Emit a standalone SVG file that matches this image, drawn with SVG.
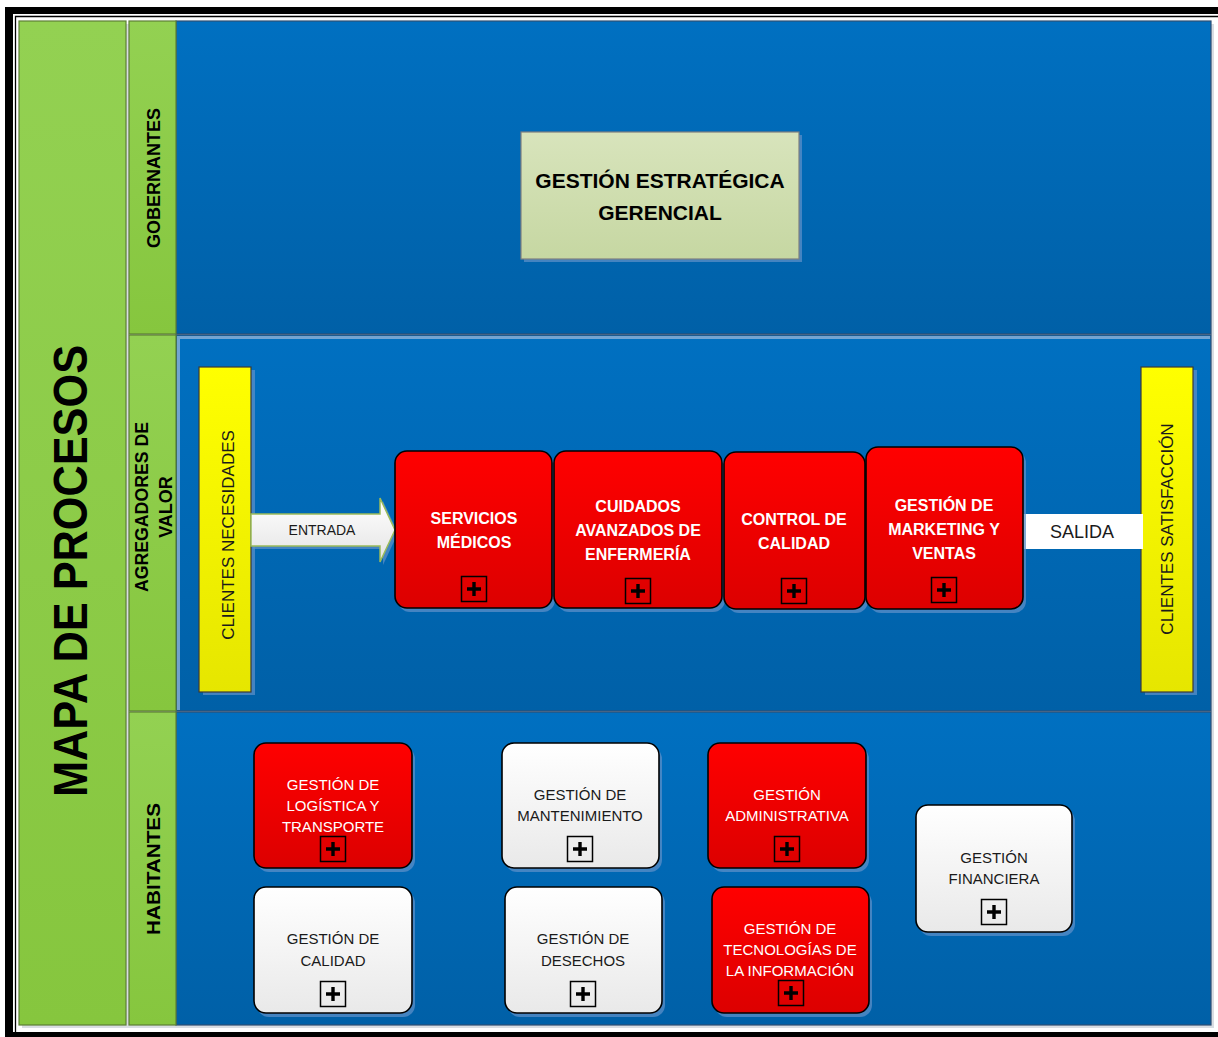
<svg xmlns="http://www.w3.org/2000/svg" width="1218" height="1037" viewBox="0 0 1218 1037">
<style>
.green{stroke:#5d7f35;stroke-width:1.2}
.lane{stroke:#2d4f73;stroke-width:1.2}
.red{fill:url(#gRed);stroke:#000;stroke-width:1.6}
.white{fill:url(#gWhite);stroke:#000;stroke-width:1.6}
.shadow{fill:#5b8fc8;opacity:0.75}
.yellow{fill:url(#gYellow);stroke:#3a3a3a;stroke-width:1.2}
.tb{font-family:"Liberation Sans",Arial,sans-serif;font-weight:bold;text-anchor:middle}
.tr{font-family:"Liberation Sans",Arial,sans-serif;text-anchor:middle}
.wt{fill:#fff}
.dk{fill:#1a1a1a}
.icon rect{fill:none;stroke:#000;stroke-width:1.5}
.icon path{stroke:#000;stroke-width:3.4;fill:none}
</style>
<defs>
<linearGradient id="gBlue" x1="0" y1="0" x2="0" y2="1"><stop offset="0" stop-color="#0070c1"/><stop offset="1" stop-color="#0060a7"/></linearGradient>
<linearGradient id="gGreen" x1="0" y1="0" x2="0" y2="1"><stop offset="0" stop-color="#93d152"/><stop offset="1" stop-color="#86c63e"/></linearGradient>
<linearGradient id="gRed" x1="0" y1="0" x2="0" y2="1"><stop offset="0" stop-color="#ff0000"/><stop offset="1" stop-color="#dc0000"/></linearGradient>
<linearGradient id="gWhite" x1="0" y1="0" x2="0" y2="1"><stop offset="0" stop-color="#ffffff"/><stop offset="1" stop-color="#e9e9e9"/></linearGradient>
<linearGradient id="gYellow" x1="0" y1="0" x2="0" y2="1"><stop offset="0" stop-color="#ffff00"/><stop offset="1" stop-color="#e6e600"/></linearGradient>
<linearGradient id="gOlive" x1="0" y1="0" x2="0" y2="1"><stop offset="0" stop-color="#d8e4bc"/><stop offset="1" stop-color="#c6d7a2"/></linearGradient>
<linearGradient id="gArrow" x1="0" y1="0" x2="0" y2="1"><stop offset="0" stop-color="#ffffff"/><stop offset="1" stop-color="#e4e4e4"/></linearGradient>
<g id="plus" class="icon"><rect x="-12.5" y="-12.5" width="25" height="25"/><path d="M-7,0H7M0,-7V7"/></g>
</defs>

<!-- frame -->
<rect x="5" y="7" width="1220" height="1040" fill="#000"/>
<rect x="13" y="14" width="1210" height="1018" fill="#fff"/>
<path d="M15.5,1032V16.5H1218" fill="none" stroke="#000" stroke-width="1.3"/>

<!-- shadows of lanes -->
<rect x="22" y="24" width="1192" height="1004" fill="#d9dde2"/>

<g id="title-column">
<rect x="19" y="21" width="107" height="1004" fill="url(#gGreen)" class="green"/>
<text class="tb" transform="translate(70,571) rotate(-90)" y="17" font-size="48" textLength="452" lengthAdjust="spacingAndGlyphs" fill="#000">MAPA DE PROCESOS</text>
</g>

<g id="lane-gobernantes">
<rect x="176" y="21" width="1035" height="313" fill="url(#gBlue)" class="lane"/>
<rect x="129" y="21" width="47" height="313" fill="url(#gGreen)" class="green"/>
<text class="tb" transform="translate(153,178) rotate(-90)" y="6.5" font-size="18" textLength="140" lengthAdjust="spacingAndGlyphs" fill="#000">GOBERNANTES</text>
</g>

<g id="lane-agregadores">
<rect x="176" y="335" width="1035" height="376" fill="url(#gBlue)" class="lane"/>
<path d="M178.5,710V337.5H1210" fill="none" stroke="#8fb2d6" stroke-width="3" opacity="0.8"/>
<rect x="129" y="335" width="47" height="376" fill="url(#gGreen)" class="green"/>
<text class="tb" transform="translate(141,507) rotate(-90)" y="6.5" font-size="18" textLength="170" lengthAdjust="spacingAndGlyphs" fill="#000">AGREGADORES DE</text>
<text class="tb" transform="translate(165,507) rotate(-90)" y="6.5" font-size="18" fill="#000">VALOR</text>
</g>

<g id="lane-habitantes">
<rect x="176" y="712" width="1035" height="313" fill="url(#gBlue)" class="lane"/>
<rect x="129" y="712" width="47" height="313" fill="url(#gGreen)" class="green"/>
<text class="tb" transform="translate(153,869) rotate(-90)" y="6.5" font-size="18" textLength="132" lengthAdjust="spacingAndGlyphs" fill="#000">HABITANTES</text>
</g>

<g id="node-estrategica">
<rect x="524" y="135" width="278" height="127" class="shadow"/>
<rect x="521" y="132" width="278" height="127" fill="url(#gOlive)" stroke="#7f7f7f" stroke-width="1.2"/>
<text class="tb" x="660" y="187.5" font-size="21" fill="#000">GESTIÓN ESTRATÉGICA</text>
<text class="tb" x="660" y="219.5" font-size="21" fill="#000">GERENCIAL</text>
</g>

<g id="node-clientes-necesidades">
<rect x="203" y="370" width="52" height="325" class="shadow"/>
<rect x="199" y="367" width="52" height="325" class="yellow"/>
<text class="tr dk" transform="translate(228,535) rotate(-90)" y="6" font-size="17">CLIENTES NECESIDADES</text>
</g>

<g id="node-clientes-satisfaccion">
<rect x="1145" y="370" width="52" height="325" class="shadow"/>
<rect x="1141" y="367" width="52" height="325" class="yellow"/>
<text class="tr dk" transform="translate(1167,529) rotate(-90)" y="6" font-size="17">CLIENTES SATISFACCIÓN</text>
</g>

<g id="connectors">
<path d="M253,517H383V501L398,533L383,565V549H253Z" class="shadow"/>
<path d="M251,514H380V498L395,530L380,562V546H251Z" fill="url(#gArrow)" stroke="#9bbb59" stroke-width="1.5"/>
<text class="tr dk" x="322" y="535" font-size="14">ENTRADA</text>
<rect x="1023" y="514" width="120" height="35" fill="#fff"/>
<text class="tr dk" x="1082" y="537.5" font-size="18">SALIDA</text>
</g>

<g id="node-servicios-medicos">
<rect x="398" y="455" width="157" height="157" rx="12" class="shadow"/>
<rect x="395" y="451" width="157" height="157" rx="12" class="red"/>
<text class="tb wt" x="474" y="524" font-size="16">SERVICIOS</text>
<text class="tb wt" x="474" y="548" font-size="16">MÉDICOS</text>
<use href="#plus" x="474" y="589"/>
</g>

<g id="node-cuidados">
<rect x="557" y="455" width="168" height="157" rx="12" class="shadow"/>
<rect x="554" y="451" width="168" height="157" rx="12" class="red"/>
<text class="tb wt" x="638" y="512" font-size="16">CUIDADOS</text>
<text class="tb wt" x="638" y="536" font-size="16">AVANZADOS DE</text>
<text class="tb wt" x="638" y="560" font-size="16">ENFERMERÍA</text>
<use href="#plus" x="638" y="591"/>
</g>

<g id="node-control-calidad">
<rect x="727" y="456" width="141" height="157" rx="12" class="shadow"/>
<rect x="724" y="452" width="141" height="157" rx="12" class="red"/>
<text class="tb wt" x="794" y="525" font-size="16">CONTROL DE</text>
<text class="tb wt" x="794" y="549" font-size="16">CALIDAD</text>
<use href="#plus" x="794" y="591"/>
</g>

<g id="node-marketing">
<rect x="869" y="451" width="157" height="162" rx="12" class="shadow"/>
<rect x="866" y="447" width="157" height="162" rx="12" class="red"/>
<text class="tb wt" x="944" y="511" font-size="16">GESTIÓN DE</text>
<text class="tb wt" x="944" y="535" font-size="16">MARKETING Y</text>
<text class="tb wt" x="944" y="559" font-size="16">VENTAS</text>
<use href="#plus" x="944" y="590"/>
</g>

<g id="node-logistica">
<rect x="257" y="747" width="158" height="125" rx="12" class="shadow"/>
<rect x="254" y="743" width="158" height="125" rx="12" class="red"/>
<text class="tr wt" x="333" y="789.5" font-size="15">GESTIÓN DE</text>
<text class="tr wt" x="333" y="810.5" font-size="15">LOGÍSTICA Y</text>
<text class="tr wt" x="333" y="831.5" font-size="15">TRANSPORTE</text>
<use href="#plus" x="333" y="849"/>
</g>

<g id="node-mantenimiento">
<rect x="505" y="747" width="157" height="125" rx="12" class="shadow"/>
<rect x="502" y="743" width="157" height="125" rx="12" class="white"/>
<text class="tr dk" x="580" y="799.5" font-size="15">GESTIÓN DE</text>
<text class="tr dk" x="580" y="820.5" font-size="15">MANTENIMIENTO</text>
<use href="#plus" x="580" y="849"/>
</g>

<g id="node-administrativa">
<rect x="711" y="747" width="158" height="125" rx="12" class="shadow"/>
<rect x="708" y="743" width="158" height="125" rx="12" class="red"/>
<text class="tr wt" x="787" y="799.5" font-size="15">GESTIÓN</text>
<text class="tr wt" x="787" y="820.5" font-size="15">ADMINISTRATIVA</text>
<use href="#plus" x="787" y="849"/>
</g>

<g id="node-financiera">
<rect x="919" y="809" width="156" height="127" rx="12" class="shadow"/>
<rect x="916" y="805" width="156" height="127" rx="12" class="white"/>
<text class="tr dk" x="994" y="862.5" font-size="15">GESTIÓN</text>
<text class="tr dk" x="994" y="883.5" font-size="15">FINANCIERA</text>
<use href="#plus" x="994" y="912"/>
</g>

<g id="node-calidad">
<rect x="257" y="891" width="158" height="126" rx="12" class="shadow"/>
<rect x="254" y="887" width="158" height="126" rx="12" class="white"/>
<text class="tr dk" x="333" y="943.5" font-size="15">GESTIÓN DE</text>
<text class="tr dk" x="333" y="965.5" font-size="15">CALIDAD</text>
<use href="#plus" x="333" y="994"/>
</g>

<g id="node-desechos">
<rect x="508" y="891" width="157" height="126" rx="12" class="shadow"/>
<rect x="505" y="887" width="157" height="126" rx="12" class="white"/>
<text class="tr dk" x="583" y="943.5" font-size="15">GESTIÓN DE</text>
<text class="tr dk" x="583" y="965.5" font-size="15">DESECHOS</text>
<use href="#plus" x="583" y="994"/>
</g>

<g id="node-tecnologias">
<rect x="715" y="891" width="157" height="126" rx="12" class="shadow"/>
<rect x="712" y="887" width="157" height="126" rx="12" class="red"/>
<text class="tr wt" x="790" y="933.5" font-size="15">GESTIÓN DE</text>
<text class="tr wt" x="790" y="954.5" font-size="15">TECNOLOGÍAS DE</text>
<text class="tr wt" x="790" y="975.5" font-size="15">LA INFORMACIÓN</text>
<use href="#plus" x="791" y="993"/>
</g>
</svg>
